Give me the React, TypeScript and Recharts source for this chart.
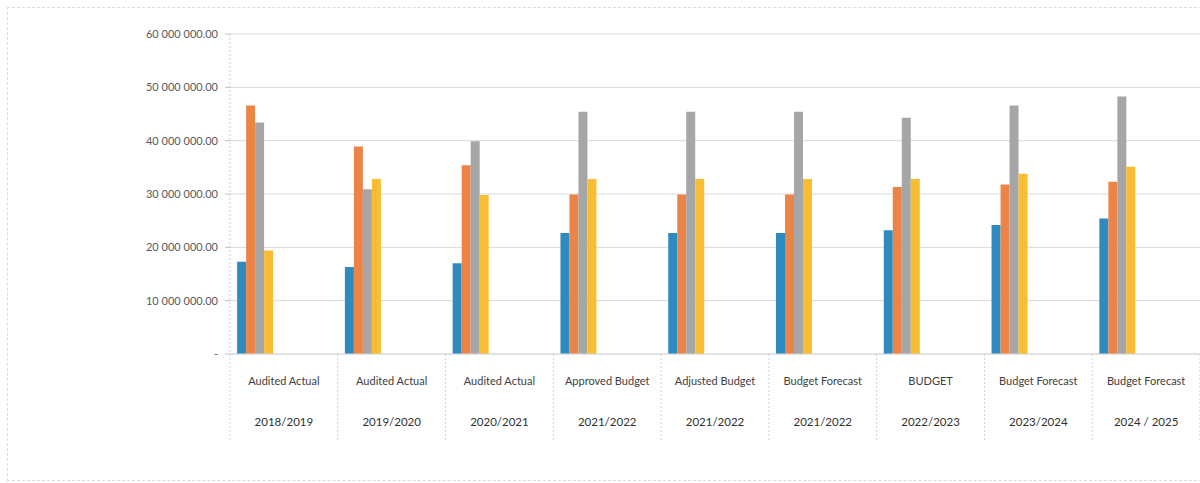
import React from 'react'
import { BarChart, Bar, XAxis, YAxis, CartesianGrid } from 'recharts'

const stages = [
  'Audited Actual',
  'Audited Actual',
  'Audited Actual',
  'Approved Budget',
  'Adjusted Budget',
  'Budget Forecast',
  'BUDGET',
  'Budget Forecast',
  'Budget Forecast',
]

const periods = [
  '2018/2019',
  '2019/2020',
  '2020/2021',
  '2021/2022',
  '2021/2022',
  '2021/2022',
  '2022/2023',
  '2023/2024',
  '2024 / 2025',
]

const series1 = [17300000, 16300000, 17000000, 22700000, 22700000, 22700000, 23200000, 24200000, 25400000]
const series2 = [46600000, 38900000, 35400000, 29900000, 29900000, 29900000, 31300000, 31800000, 32300000]
const series3 = [43400000, 30900000, 39900000, 45400000, 45400000, 45400000, 44300000, 46600000, 48300000]
const series4 = [19400000, 32800000, 29800000, 32800000, 32800000, 32800000, 32800000, 33800000, 35100000]

const yTicks = [0, 10000000, 20000000, 30000000, 40000000, 50000000, 60000000]

const COLORS = ['#2e8bc0', '#ed8447', '#a6a6a6', '#f8bd32']

const CHART_W = 1200
const CHART_H = 483
const PLOT_LEFT = 230
const STEP = (CHART_W - PLOT_LEFT) / stages.length

const data = stages.map((stage, i) => ({
  idx: i,
  key: `${stage}|${periods[i]}`,
  stage,
  period: periods[i],
  s1: series1[i],
  s2: series2[i],
  s3: series3[i],
  s4: series4[i],
}))

const FONT = 'Lato, "Open Sans", sans-serif'

function formatAmount(v: number) {
  if (v === 0) return '-'
  const whole = Math.round(v)
    .toString()
    .replace(/\B(?=(\d{3})+(?!\d))/g, ' ')
  return `${whole}.00`
}

// two-line category label with dotted cell dividers below the axis
function CategoryTick(props: any) {
  const { x, y, payload, index } = props
  const [stage, period] = String(payload.value).split('|')
  const left = x - STEP / 2
  const top = y - 8
  return (
    <g>
      <line x1={left} y1={top} x2={left} y2={top + 86} stroke="#c5d3dd" strokeDasharray="2 2" />
      {index === stages.length - 1 && (
        <line x1={left + STEP} y1={top} x2={left + STEP} y2={top + 86} stroke="#c5d3dd" strokeDasharray="2 2" />
      )}
      <text x={x} y={top + 31} textAnchor="middle" fontSize={11} fill="#404040" fontFamily={FONT}>
        {stage}
      </text>
      <text x={x} y={top + 72} textAnchor="middle" fontSize={11.5} fill="#303030" fontFamily={FONT}>
        {period}
      </text>
    </g>
  )
}

export default function App() {
  return (
    <div style={{ position: 'absolute', left: 0, top: 0, width: CHART_W, height: CHART_H, background: '#fff' }}>
      <div
        style={{
          position: 'absolute',
          left: 7,
          top: 7,
          width: CHART_W,
          height: 474,
          border: '1px dashed #dcdcdc',
          boxSizing: 'border-box',
        }}
      />
      <BarChart
        width={CHART_W}
        height={CHART_H}
        data={data}
        margin={{ top: 34, right: 0, bottom: 39, left: 0 }}
        barGap={0}
      >
        <CartesianGrid vertical={false} stroke="#d9d9d9" xAxisId="labels" />
        {/* hidden numeric axis that places the bar groups toward the left of each cell */}
        <XAxis
          xAxisId="bars"
          dataKey="idx"
          type="number"
          domain={[-0.232, 8.768]}
          allowDataOverflow
          height={0}
          hide
        />
        <XAxis
          xAxisId="labels"
          dataKey="key"
          type="category"
          height={90}
          interval={0}
          tick={<CategoryTick />}
          tickLine={false}
          axisLine={{ stroke: '#d9d9d9' }}
        />
        <YAxis
          width={PLOT_LEFT}
          domain={[0, 60000000]}
          ticks={yTicks}
          interval={0}
          tickFormatter={formatAmount}
          tickSize={5}
          tickMargin={7}
          tickLine={{ stroke: '#bfbfbf' }}
          axisLine={{ stroke: '#b9d2e2', strokeDasharray: '2 2' }}
          tick={{ fontSize: 11, fill: '#595959', fontFamily: FONT }}
        />
        <Bar xAxisId="bars" dataKey="s1" fill={COLORS[0]} barSize={9} isAnimationActive={false} />
        <Bar xAxisId="bars" dataKey="s2" fill={COLORS[1]} barSize={9} isAnimationActive={false} />
        <Bar xAxisId="bars" dataKey="s3" fill={COLORS[2]} barSize={9} isAnimationActive={false} />
        <Bar xAxisId="bars" dataKey="s4" fill={COLORS[3]} barSize={9} isAnimationActive={false} />
      </BarChart>
    </div>
  )
}
